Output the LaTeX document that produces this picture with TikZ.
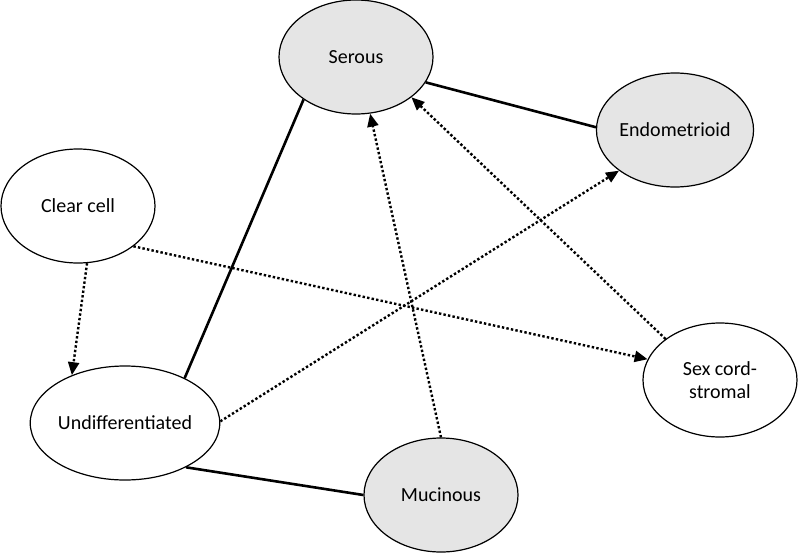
\documentclass[tikz,border=0pt]{standalone}
\usepackage{fontspec}
\setmainfont{Carlito}
\usepackage{tikz}
\usetikzlibrary{arrows.meta,shapes.geometric}

\begin{document}
\begin{tikzpicture}[x=1pt, y=-1pt,
    >={Triangle[length=13pt, width=11pt]},
    cat/.style={ellipse, draw, line width=1.2pt, fill=white,
      minimum width=154pt, minimum height=114pt, inner sep=0pt,
      font=\fontsize{20}{23}\selectfont, align=center},
    grey/.style={cat, fill=gray!20},
    link/.style={line width=2.6pt},
    maybe/.style={->, line width=2.4pt, dash pattern=on 2.4pt off 2.2pt}]
  \useasboundingbox (0,0) rectangle (800,554);

  % Subtypes (grey = main group)
  \node[grey] (serous)   at (356,57)  {Serous};
  \node[grey] (endo)     at (675,130) {Endometrioid};
  \node[cat]  (clear)    at (78,206)  {Clear cell};
  \node[cat]  (undiff)   at (125,423) {Undifferentiated};
  \node[cat]  (sexcord)  at (720,380) {Sex cord-\\stromal};
  \node[grey] (mucinous) at (441,495) {Mucinous};

  % Solid links
  \draw[link] (serous.-20) -- (endo.178);
  \draw[link] (serous.-141) -- (undiff.37);
  \draw[link] (undiff.-36) -- (mucinous.180);

  % Dotted arrows
  \draw[maybe] (clear.-81) -- (undiff.138);
  \draw[maybe] (clear.-36) -- (sexcord.164);
  \draw[maybe] (undiff.1) -- (endo.-144);
  \draw[maybe] (mucinous.90) -- (serous.-76);
  \draw[maybe] (sexcord.143) -- (serous.-36);
\end{tikzpicture}
\end{document}
